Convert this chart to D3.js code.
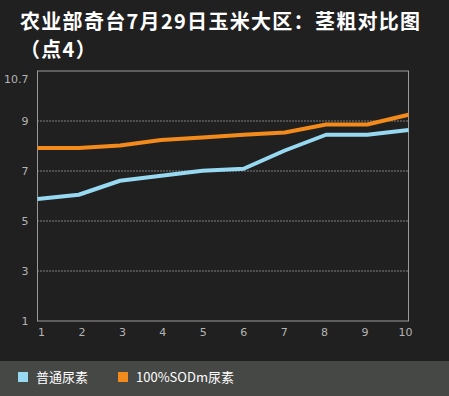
<!DOCTYPE html>
<html>
<head>
<meta charset="utf-8">
<script src="https://cdn.jsdelivr.net/npm/d3@7"></script>
<style>
  body { margin: 0; background: #202020; }
  svg { display: block; font-family: "Microsoft YaHei", "Noto Sans CJK SC", "DejaVu Sans", sans-serif; }
</style>
</head>
<body>
<div id="chart"></div>
<script>
// chart data
let points = [1, 2, 3, 4, 5, 6, 7, 8, 9, 10];
let normalUrea = [5.88, 6.05, 6.61, 6.81, 7.01, 7.09, 7.82, 8.45, 8.45, 8.64];
let sodUrea = [7.92, 7.92, 8.02, 8.24, 8.34, 8.45, 8.54, 8.86, 8.86, 9.25];
let yTicks = [1, 3, 5, 7, 9, 10.7];
let titleLines = ["农业部奇台7月29日玉米大区：茎粗对比图", "（点4）"];
let seriesNames = ["普通尿素", "100%SODm尿素"];
let seriesColors = ["#98d9f2", "#f28a1c"];

let width = 449, height = 396;
let plot = { left: 37.5, right: 408.5, top: 71, bottom: 321 };

let svg = d3.select("#chart")
  .append("svg")
  .attr("width", width)
  .attr("height", height);

svg.append("rect")
  .attr("width", width)
  .attr("height", height)
  .attr("fill", "#202020");

// title, two lines
svg.append("g")
  .selectAll("text")
  .data(titleLines)
  .enter()
  .append("text")
  .attr("x", 20)
  .attr("y", (d, i) => 29 + i * 28)
  .attr("fill", "#ffffff")
  .style("font-size", "20px")
  .style("font-weight", "bold")
  .style("letter-spacing", "1.3px")
  .text(d => d);

let x = d3.scaleLinear().domain([1, 10]).range([plot.left, plot.right]);
let xLabels = d3.scalePoint().domain(points).range([41, 405]);
let y = d3.scaleLinear().domain([1, 11]).range([plot.bottom, plot.top]);

// dotted gridlines
svg.append("g")
  .selectAll("line")
  .data([3, 5, 7, 9])
  .enter()
  .append("line")
  .attr("x1", plot.left)
  .attr("x2", plot.right)
  .attr("y1", d => y(d))
  .attr("y2", d => y(d))
  .attr("stroke", "#e0e0e0")
  .attr("stroke-width", 1)
  .attr("stroke-dasharray", "1,2");

// frame
svg.append("rect")
  .attr("x", plot.left)
  .attr("y", plot.top)
  .attr("width", plot.right - plot.left)
  .attr("height", plot.bottom - plot.top)
  .attr("fill", "none")
  .attr("stroke", "#9a9a9a")
  .attr("stroke-width", 1);

// y axis labels
let yAxis = svg.append("g")
  .attr("transform", `translate(${plot.left - 9}, 0)`)
  .call(d3.axisLeft(y).tickValues(yTicks).tickSize(0).tickPadding(0).tickFormat(d => d));
yAxis.select(".domain").remove();
yAxis.selectAll("text")
  .attr("fill", "#b4b4b4")
  .style("font-size", "11px")
  .style("font-family", "'DejaVu Sans', sans-serif");

// x axis labels
let xAxis = svg.append("g")
  .attr("transform", `translate(0, ${plot.bottom + 5})`)
  .call(d3.axisBottom(xLabels).tickSize(0).tickPadding(2));
xAxis.select(".domain").remove();
xAxis.selectAll("text")
  .attr("fill", "#b4b4b4")
  .style("font-size", "11px")
  .style("font-family", "'DejaVu Sans', sans-serif");

// lines
let line = d3.line()
  .x((d, i) => x(points[i]))
  .y(d => y(d));

[normalUrea, sodUrea].forEach(function(values, i) {
  svg.append("path")
    .datum(values)
    .attr("d", line)
    .attr("fill", "none")
    .attr("stroke", seriesColors[i])
    .attr("stroke-width", 4)
    .attr("stroke-linejoin", "round");
});

// legend band
svg.append("rect")
  .attr("x", 0)
  .attr("y", 361)
  .attr("width", width)
  .attr("height", height - 361)
  .attr("fill", "#464846");

let legendX = [18, 118];
let legend = svg.append("g")
  .selectAll("g")
  .data(seriesNames)
  .enter()
  .append("g")
  .attr("transform", (d, i) => `translate(${legendX[i]}, 372)`);

legend.append("rect")
  .attr("width", 10)
  .attr("height", 10)
  .attr("fill", (d, i) => seriesColors[i]);

legend.append("text")
  .attr("x", 18)
  .attr("y", 10)
  .attr("fill", "#ffffff")
  .style("font-size", "13px")
  .text(d => d);
</script>
</body>
</html>
